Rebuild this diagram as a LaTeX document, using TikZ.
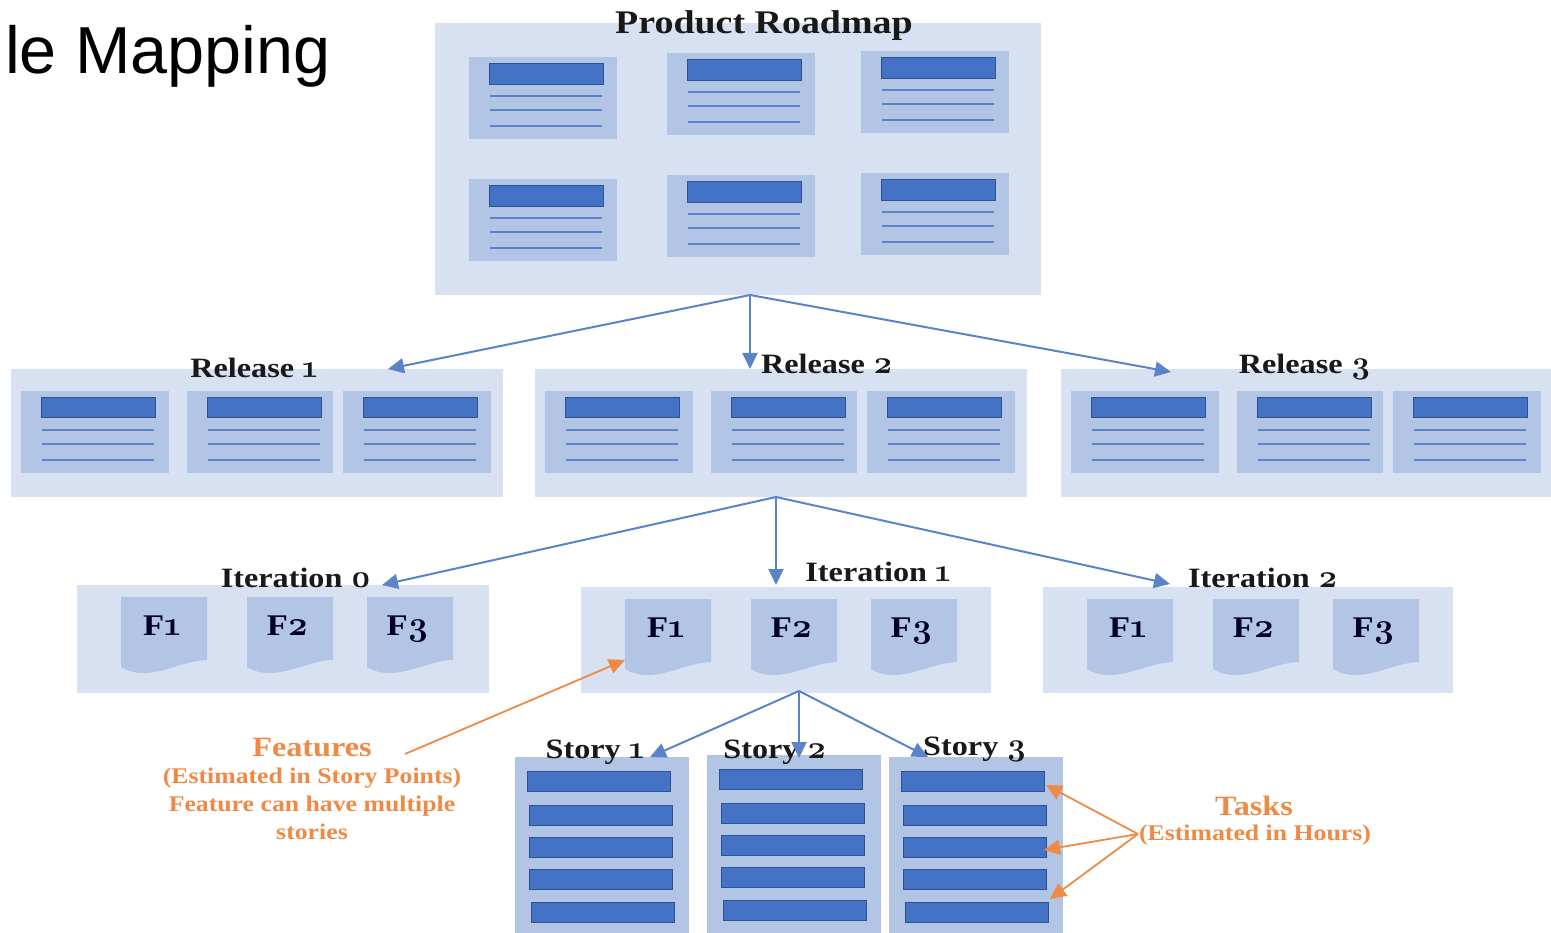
\documentclass[tikz,border=0pt]{standalone}
\usepackage{fontspec}
\newfontfamily\slidefont{Liberation Sans}
\newfontfamily\headfont{Liberation Serif}[FakeStretch=1.15]
\newfontfamily\digitfont{Latin Modern Roman}[Numbers=OldStyle,Scale=1.15]
\newcommand{\od}[1]{{\digitfont #1}}
\usepackage{tikz}
\usetikzlibrary{arrows.meta,positioning}
\definecolor{panelblue}{HTML}{D8E1F2}
\definecolor{cardblue}{HTML}{B3C5E4}
\definecolor{barblue}{HTML}{4472C4}
\definecolor{barline}{HTML}{2F528F}
\definecolor{linkblue}{HTML}{5B83C8}
\definecolor{noteorange}{HTML}{EE8A45}
\tikzstyle{panel} = [fill=panelblue, anchor=north west, inner sep=0pt, outer sep=0pt]
\tikzstyle{card} = [fill=cardblue, anchor=north west, inner sep=0pt, outer sep=0pt,
    minimum height=82pt]
\tikzstyle{bar} = [fill=barblue, draw=barline, line width=1pt, anchor=north west,
    inner sep=0pt, outer sep=0pt, minimum width=143pt, minimum height=20pt]
\tikzstyle{textline} = [draw=linkblue, line width=1.5pt]
\tikzstyle{head} = [font=\headfont\bfseries\fontsize{28}{32}\selectfont, inner sep=0pt, text=black!90]
\tikzstyle{flabel} = [font=\headfont\bfseries\fontsize{30}{36}\selectfont, inner sep=0pt, anchor=base, text=black!85!blue]
\tikzstyle{note} = [font=\headfont\bfseries\fontsize{22.4}{26}\selectfont, inner sep=0pt, text=noteorange]
\tikzstyle{notehead} = [font=\headfont\bfseries\fontsize{28}{32}\selectfont, inner sep=0pt, text=noteorange]
\tikzstyle{link} = [-{Triangle[length=16pt,width=15pt]}, draw=linkblue, line width=2pt]
\tikzstyle{notelink} = [-{Triangle[length=16pt,width=15pt]}, draw=noteorange, line width=1.8pt]
\newcommand{\headh}{21}
% one card: width, name, left, top
\newcommand{\card}[4][148]{
  \begin{scope}[shift={(#3,#4)}]
    \node [card, minimum width=#1pt] (#2) at (0,0) {};
    \node [bar, minimum width=114pt, minimum height=\headh pt] (#2h) at (20,7) {};
    \foreach \ly in {39,53,69}
      \draw [textline] (21,\ly) -- (133,\ly);
  \end{scope}
}
% one feature sheet: name, left, top, text
\newcommand{\sheet}[4]{
  \begin{scope}[shift={(#2,#3)}]
    \fill [cardblue] (0,0) -- (86,0) -- (86,63) .. controls (62,64) and (45,76) .. (22,76)
      .. controls (12,76) and (5,73) .. (0,70) -- cycle;
    \node [flabel] (#1) at (41,38) {#4};
    \coordinate (#1e) at (0,61);
  \end{scope}
}
\begin{document}
\begin{tikzpicture}[x=1pt, y=-1pt]
  \useasboundingbox (0,0) rectangle (1551,933);
  \node [anchor=base west, inner sep=0pt, font=\slidefont\fontsize{66.5}{70}\selectfont] (slide) at (5,74) {le Mapping};

  % Place panels
  \node [panel, minimum width=606pt, minimum height=272pt] (roadmap) at (435,23) {};
  \node [panel, minimum width=492pt, minimum height=128pt] (rel1) at (11,369) {};
  \node [panel, minimum width=492pt, minimum height=128pt] (rel2) at (535,369) {};
  \node [panel, minimum width=490pt, minimum height=128pt] (rel3) at (1061,369) {};
  \node [panel, minimum width=412pt, minimum height=108pt] (iter0) at (77,585) {};
  \node [panel, minimum width=410pt, minimum height=106pt] (iter1) at (581,587) {};
  \node [panel, minimum width=410pt, minimum height=106pt] (iter2) at (1043,587) {};
  \node [panel, fill=cardblue, minimum width=174pt, minimum height=176pt] (story1) at (515,757) {};
  \node [panel, fill=cardblue, minimum width=174pt, minimum height=178pt] (story2) at (707,755) {};
  \node [panel, fill=cardblue, minimum width=174pt, minimum height=176pt] (story3) at (889,757) {};

  % Cards
  \card{ra}{469}{57}
  \card{rb}{667}{53}
  \card{rc}{861}{51}
  \card{rd}{469}{179}
  \card{re}{667}{175}
  \card{rf}{861}{173}
  \renewcommand{\headh}{19}
  \foreach \n/\cx/\cw in {a/21/148,b/187/146,c/343/148} {\card[\cw]{ca\n}{\cx}{391}}
  \foreach \n/\cx/\cw in {a/545/148,b/711/146,c/867/148} {\card[\cw]{cb\n}{\cx}{391}}
  \foreach \n/\cx/\cw in {a/1071/148,b/1237/146,c/1393/148} {\card[\cw]{cc\n}{\cx}{391}}

  % Feature sheets
  \sheet{fa}{121}{597}{F\od{1}}
  \sheet{fb}{247}{597}{F\od{2}}
  \sheet{fc}{367}{597}{F\od{3}}
  \sheet{fd}{625}{599}{F\od{1}}
  \sheet{ff}{751}{599}{F\od{2}}
  \sheet{fg}{871}{599}{F\od{3}}
  \sheet{fh}{1087}{599}{F\od{1}}
  \sheet{fi}{1213}{599}{F\od{2}}
  \sheet{fj}{1333}{599}{F\od{3}}

  % Task bars
  \foreach \n/\bx/\by in {1/527/771,2/529/805,3/529/837,4/529/869,5/531/902}
    \node [bar] (sa\n) at (\bx,\by) {};
  \foreach \n/\bx/\by in {1/719/769,2/721/803,3/721/835,4/721/867,5/723/900}
    \node [bar] (sb\n) at (\bx,\by) {};
  \foreach \n/\bx/\by in {1/901/771,2/903/805,3/903/837,4/903/869,5/905/902}
    \node [bar] (sc\n) at (\bx,\by) {};

  % Titles
  \node [head, font=\headfont\bfseries\fontsize{33}{36}\selectfont] (troad) at (764,26) {Product Roadmap};
  \node [head] (trel1) at (254,368) {Release \od{1}};
  \node [head] (trel2) at (827,364) {Release \od{2}};
  \node [head] (trel3) at (1305,367) {Release \od{3}};
  \node [head] (tit0) at (296,578) {Iteration \od{0}};
  \node [head] (tit1) at (878,572) {Iteration \od{1}};
  \node [head] (tit2) at (1263,578) {Iteration \od{2}};
  \node [head] (tst1) at (595,752) {Story \od{1}};
  \node [head] (tst2) at (775,752) {Story \od{2}};
  \node [head] (tst3) at (975,750) {Story \od{3}};

  % Notes
  \node [notehead] (nfeat) at (312,748) {Features};
  \node [note] (nfeatb) at (312,778) {(Estimated in Story Points)};
  \node [note] (nfeatc) at (312,806) {Feature can have multiple};
  \node [note] (nfeatd) at (312,832) {stories};
  \node [notehead] (ntask) at (1254,806) {Tasks};
  \node [note] (ntaskb) at (1255,835) {(Estimated in Hours)};

  % Links
  \draw [link] ([xshift=12pt]roadmap.south) -- ([xshift=131pt]rel1.north);
  \draw [link] ([xshift=12pt]roadmap.south) -- ([xshift=-31pt]rel2.north);
  \draw [link] ([xshift=12pt]roadmap.south) -- ([xshift=-135pt,yshift=-3pt]rel3.north);
  \draw [link] ([xshift=-5pt]rel2.south) -- ([xshift=99pt]iter0.north);
  \draw [link] ([xshift=-5pt]rel2.south) -- ([xshift=-10pt,yshift=2pt]iter1.north);
  \draw [link] ([xshift=-5pt]rel2.south) -- ([xshift=-78pt,yshift=3pt]iter2.north);
  \draw [link] ([xshift=13pt,yshift=2pt]iter1.south) -- ([xshift=48pt]story1.north);
  \draw [link] ([xshift=13pt,yshift=2pt]iter1.south) -- ([xshift=5pt,yshift=-3pt]story2.north);
  \draw [link] ([xshift=13pt,yshift=2pt]iter1.south) -- ([xshift=-48pt]story3.north);

  \coordinate (featstart) at (405,754);
  \coordinate (taskstart) at (1138,834);
  \draw [notelink] (featstart) -- (fde);
  \draw [notelink] (taskstart) -- ([shift={(2pt,-4pt)}]sc1.east);
  \draw [notelink] (taskstart) -- ([shift={(-2pt,-3pt)}]sc3.east);
  \draw [notelink] (taskstart) -- ([shift={(2pt,13pt)}]sc5.east);
\end{tikzpicture}
\end{document}
